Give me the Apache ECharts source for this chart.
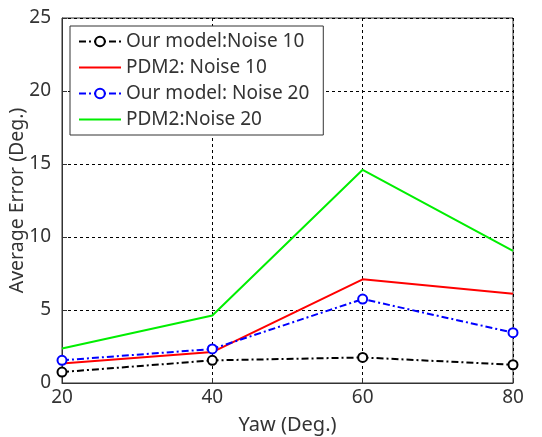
<!DOCTYPE html>
<html><head><meta charset="utf-8">
<script src="https://cdn.jsdelivr.net/npm/echarts@6/dist/echarts.min.js"></script>
<style>html,body{margin:0;padding:0;background:#fff}#c{width:542px;height:437px}</style>
</head><body><div id="c"></div>
<script>
const yaw = [20, 40, 60, 80];
const ourNoise10 = [0.75, 1.55, 1.75, 1.25];
const pdmNoise10 = [1.33, 2.12, 7.1, 6.12];
const ourNoise20 = [1.55, 2.33, 5.75, 3.45];
const pdmNoise20 = [2.36, 4.62, 14.6, 9.05];
const seriesNames = ['Our model:Noise 10', 'PDM2: Noise 10', 'Our model: Noise 20', 'PDM2:Noise 20'];

const font = 'Noto Sans';
const txt = '#333';
const lineIcon = 'path://M0,0 L42,0 L42,2 L0,2 Z';
const chart = echarts.init(document.getElementById('c'));
const pair = a => yaw.map((x, i) => [x, a[i]]);
chart.setOption({
  animation: false,
  grid: {left: 62, right: 29, top: 18, bottom: 54, show: true, borderColor: '#333', borderWidth: 1,
         outerBoundsMode: 'none', containLabel: false},
  legend: {
    orient: 'vertical', left: 70, top: 26,
    itemWidth: 42, itemHeight: 12, itemGap: 7,
    padding: [6, 14, 6, 8],
    borderColor: '#333', borderWidth: 1, backgroundColor: '#fff',
    textStyle: {fontFamily: font, fontSize: 19, lineHeight: 19, color: txt},
    data: [
      {name: seriesNames[0]},
      {name: seriesNames[1], icon: lineIcon, itemStyle: {color: '#ff0000'}},
      {name: seriesNames[2]},
      {name: seriesNames[3], icon: lineIcon, itemStyle: {color: '#00ee00'}}
    ]
  },
  xAxis: {
    type: 'value', min: 20, max: 80, interval: 20,
    name: 'Yaw (Deg.)', nameLocation: 'middle', nameGap: 32,
    nameTextStyle: {fontFamily: font, fontSize: 20, color: txt},
    axisLine: {lineStyle: {color: '#333'}},
    axisTick: {inside: true, length: 5, lineStyle: {color: '#333'}},
    axisLabel: {fontFamily: font, fontSize: 19, color: txt, margin: 5},
    splitLine: {show: true, lineStyle: {color: '#000', type: [3, 3], width: 1}}
  },
  yAxis: {
    type: 'value', min: 0, max: 25, interval: 5,
    name: 'Average Error (Deg.)', nameLocation: 'middle', nameGap: 35, nameMoveOverlap: false,
    nameTextStyle: {fontFamily: font, fontSize: 19.5, color: txt},
    axisLine: {lineStyle: {color: '#333'}},
    axisTick: {inside: true, length: 5, lineStyle: {color: '#333'}},
    axisLabel: {fontFamily: font, fontSize: 19, color: txt, margin: 11},
    splitLine: {show: true, lineStyle: {color: '#000', type: [3, 3], width: 1}}
  },
  series: [
    {name: seriesNames[0], type: 'line', data: pair(ourNoise10), symbol: 'emptyCircle', symbolSize: 9,
     lineStyle: {color: '#000', width: 2, type: [7, 3, 2, 3]}, itemStyle: {color: '#000', borderWidth: 2}, z: 4},
    {name: seriesNames[1], type: 'line', data: pair(pdmNoise10), symbol: 'none',
     lineStyle: {color: '#ff0000', width: 2}, itemStyle: {color: '#ff0000'}, z: 3},
    {name: seriesNames[2], type: 'line', data: pair(ourNoise20), symbol: 'emptyCircle', symbolSize: 9,
     lineStyle: {color: '#0000ff', width: 2, type: [7, 3, 2, 3]}, itemStyle: {color: '#0000ff', borderWidth: 2}, z: 5},
    {name: seriesNames[3], type: 'line', data: pair(pdmNoise20), symbol: 'none',
     lineStyle: {color: '#00ee00', width: 2}, itemStyle: {color: '#00ee00'}, z: 2}
  ]
});
</script></body></html>
